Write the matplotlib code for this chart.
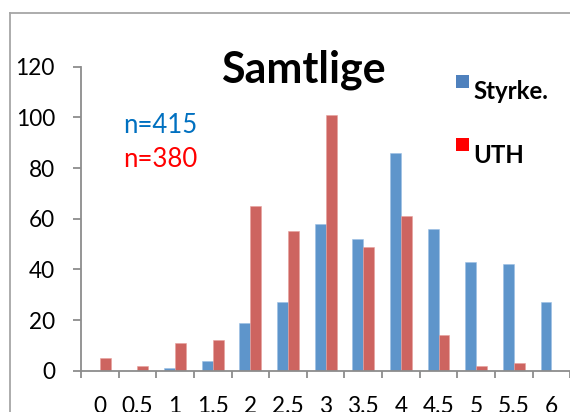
import matplotlib
matplotlib.use("Agg")
import matplotlib.pyplot as plt
import numpy as np
from matplotlib.patches import Rectangle
from matplotlib.lines import Line2D

categories = ["0", "0.5", "1", "1.5", "2", "2.5", "3", "3.5", "4", "4.5", "5", "5.5", "6"]
styrke = [0, 0, 1, 4, 19, 27, 58, 52, 86, 56, 43, 42, 27]
uth = [5, 2, 11, 12, 65, 55, 101, 49, 61, 14, 2, 3, 0]
yticks = [0, 20, 40, 60, 80, 100, 120]

W, H = 570, 412
plt.rcParams['font.family'] = ['Lato', 'DejaVu Sans']
fig = plt.figure(figsize=(W / 100, H / 100), dpi=100)

def fx(x):
    return x / W

def fy(y):
    return 1 - y / H

ax = fig.add_axes([fx(81), fy(370.7), (570.3 - 81) / W, (370.7 - 66.7) / H])
blue = "#5E95CB"
red = "#CD6460"
n = len(categories)
x = np.arange(n) + 0.5
w = 0.29
ax.bar(x - w / 2, styrke, w, color=blue, edgecolor="#9CC0E4", linewidth=0.4)
ax.bar(x + w / 2, uth, w, color=red, edgecolor="#E8A09D", linewidth=0.4)
ax.set_xlim(0, n)
ax.set_ylim(0, 120)
ax.patch.set_alpha(0)
for s in ["top", "right"]:
    ax.spines[s].set_visible(False)
for s in ["left", "bottom"]:
    ax.spines[s].set_color("#8C8C8C")
    ax.spines[s].set_linewidth(1.3)
ax.set_yticks(yticks)
ax.set_yticklabels([str(v) for v in yticks])
ax.tick_params(axis="y", direction="out", length=5.8, width=1.3, color="#8C8C8C",
               pad=13, labelsize=16.3, labelcolor="black")
ax.set_xticks(np.arange(n + 1))
ax.set_xticklabels([""] * (n + 1))
ax.tick_params(axis="x", which="major", direction="out", length=5, width=1.3, color="#8C8C8C")
ax.set_xticks(x, minor=True)
ax.set_xticklabels(categories, minor=True)
ax.tick_params(axis="x", which="minor", length=0, pad=18, labelsize=16.3, labelcolor="black")
ax.spines["bottom"].set_clip_on(False)

# chart area border
fig.add_artist(Line2D([fx(10), fx(10)], [0, fy(12.7)], color="#A6A6A6", lw=1.3))
fig.add_artist(Line2D([fx(10), 1], [fy(12.7), fy(12.7)], color="#A6A6A6", lw=1.3))

fig.text(fx(303), fy(83), "Samtlige", ha="center", va="baseline", fontsize=31, fontweight="bold")
fig.text(fx(123), fy(132.7), "n=415", ha="left", va="baseline", fontsize=18.5, color="#0070C0")
fig.text(fx(123), fy(166.7), "n=380", ha="left", va="baseline", fontsize=18.5, color="#FF0000")

fig.add_artist(Rectangle((fx(456), fy(88)), 13 / W, 13 / H, transform=fig.transFigure,
                         facecolor="#4F81BD", edgecolor="none"))
fig.add_artist(Rectangle((fx(456), fy(151)), 13 / W, 13 / H, transform=fig.transFigure,
                         facecolor="#FF0000", edgecolor="none"))
fig.text(fx(473), fy(99), "Styrke.", ha="left", va="baseline", fontsize=17.3, fontweight="bold")
fig.text(fx(473), fy(163.3), "UTH", ha="left", va="baseline", fontsize=17.3, fontweight="bold")

fig.savefig("out.png", dpi=100)
